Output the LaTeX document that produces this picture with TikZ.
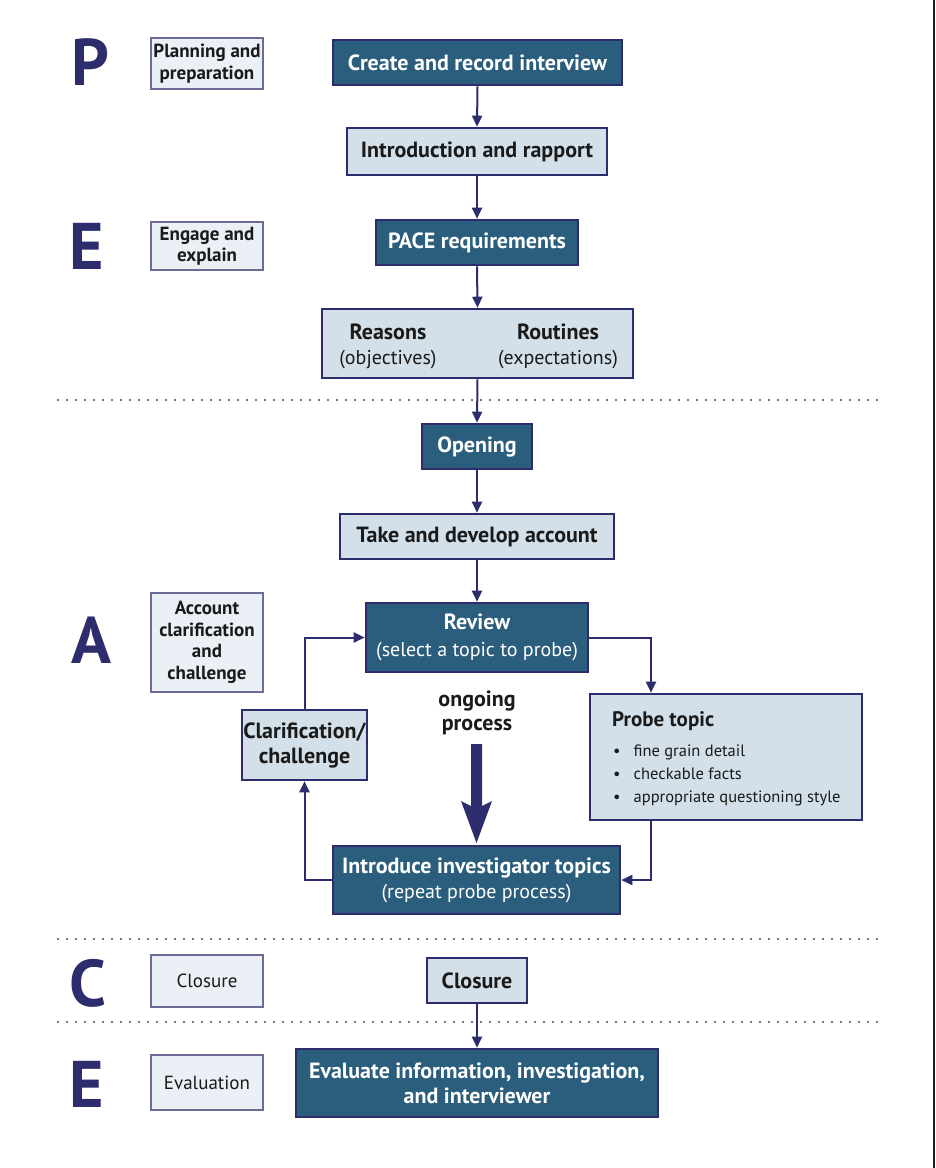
\documentclass[tikz,border=0pt]{standalone}
\usepackage{fontspec}
\setmainfont{PT Sans}
\usetikzlibrary{arrows.meta}
\definecolor{navy}{HTML}{2D2C6C}
\definecolor{darkfill}{HTML}{2A5E7C}
\definecolor{lightfill}{HTML}{D3E0E9}
\definecolor{palefill}{HTML}{EAF0F5}
\definecolor{txt}{HTML}{1A1A1A}
\newcommand\subtxt{\fontsize{20}{24}\selectfont\mdseries}
\tikzset{
  darkbox/.style={draw=navy, line width=2.6pt, fill=darkfill, text=white, font=\fontsize{22}{25}\selectfont\bfseries, align=center, inner sep=0pt},
  lightbox/.style={draw=navy, line width=2.6pt, fill=lightfill, text=txt, font=\fontsize{22}{25}\selectfont\bfseries, align=center, inner sep=0pt},
  sidebox/.style={draw=navy!70, line width=1.4pt, fill=palefill, text=txt, font=\fontsize{19}{21.5}\selectfont\bfseries, align=center, inner sep=0pt, minimum width=112pt},
  letter/.style={text=navy, font=\fontsize{66}{66}\selectfont\bfseries, inner sep=0pt},
  conn/.style={draw=navy, line width=2pt, -{Triangle[length=11pt,width=10pt]}},
  dotline/.style={draw=navy!70!gray, line width=2.4pt, line cap=round, dash pattern=on 0pt off 9pt}
}
\begin{document}
\begin{tikzpicture}[x=1pt,y=-1pt]
\useasboundingbox (0,0) rectangle (936,1168);
\fill[white] (0,0) rectangle (936,1168);
\draw[line width=2.5pt, draw=black!88] (934,0) -- (934,1168);

% letters
\node[letter] (lP) at (90,62) {P};
\node[letter] (lE1) at (87,246) {E};
\node[letter] (lA) at (91,640) {A};
\node[letter] (lC) at (88,983) {C};
\node[letter] (lE2) at (87,1084) {E};

% side boxes
\node[sidebox, minimum height=51pt] (planning) at (207,63.5) {Planning and\\preparation};
\node[sidebox, minimum height=48pt] (engage) at (207,246) {Engage and\\explain};
\node[sidebox, minimum height=99pt] (account) at (207,642.5) {Account\\clarification\\and\\challenge};
\node[sidebox, minimum height=52pt] (closureL) at (207,981) {\mdseries Closure};
\node[sidebox, minimum height=55pt] (evaluation) at (207,1082.5) {\mdseries Evaluation};

% dotted separators
\draw[dotline] (58,400) -- (883,400);
\draw[dotline] (58,939) -- (883,939);
\draw[dotline] (58,1022) -- (883,1022);

% main flow
\node[darkbox, minimum width=289pt, minimum height=45pt] (create) at (477.5,62.5) {Create and record interview};
\node[lightbox, minimum width=260pt, minimum height=47pt] (intro) at (477,151.5) {Introduction and rapport};
\node[darkbox, minimum width=202pt, minimum height=45pt] (pace) at (477,242.5) {PACE requirements};
\node[lightbox, minimum width=311pt, minimum height=69pt] (reasons) at (477.5,343.5) {};
\node[lightbox, draw=none, fill=none] (reasonsT) at (388,346) {Reasons\\{\subtxt (objectives)}};
\node[lightbox, draw=none, fill=none] (routinesT) at (558,346) {Routines\\{\subtxt (expectations)}};
\node[darkbox, minimum width=110pt, minimum height=45pt] (opening) at (477,446.5) {Opening};
\node[lightbox, minimum width=274pt, minimum height=45pt] (take) at (477,536.5) {Take and develop account};
\node[darkbox, minimum width=222pt, minimum height=69pt] (review) at (477,637.5) {Review\\[2pt]{\subtxt (select a topic to probe)}};
\node[lightbox, minimum width=125pt, minimum height=70pt] (clar) at (304.5,745) {Clarification/\\challenge};
\node[lightbox, minimum width=272pt, minimum height=126pt] (probe) at (726,757) {};
\node[anchor=north west, inner sep=0pt, text=txt, font=\fontsize{21}{24}\selectfont\bfseries] (probeT) at (612,711) {Probe topic};
\node[anchor=north west, inner sep=0pt, text=txt, font=\fontsize{16.5}{23}\selectfont, align=left] (probeL) at (613,745)
  {\textbullet\hspace{13pt}fine grain detail\\ \textbullet\hspace{13pt}checkable facts\\ \textbullet\hspace{13pt}appropriate questioning style};
\node[darkbox, minimum width=287pt, minimum height=68pt] (introduce) at (476.5,880) {Introduce investigator topics\\{\subtxt (repeat probe process)}};
\node[lightbox, minimum width=100pt, minimum height=45pt] (closureC) at (477,980.5) {Closure};
\node[darkbox, minimum width=362pt, minimum height=68pt] (evaluate) at (477,1083) {Evaluate information, investigation,\\and interviewer};

% ongoing process
\node[text=txt, font=\fontsize{22}{24}\selectfont\bfseries, align=center, inner sep=0pt] (ongoing) at (477,713) {ongoing\\process};
\fill[navy] (471,744) -- (482,744) -- (482,806) -- (492,801) -- (476.5,843) -- (461,801) -- (471,806) -- cycle;

% connectors
\draw[conn] (create.south) -- (intro.north);
\draw[conn] (intro.south) -- (pace.north);
\draw[conn] (pace.south) -- (reasons.north);
\draw[conn] (reasons.south) -- (opening.north);
\draw[conn] (opening.south) -- (take.north);
\draw[conn] (take.south) -- (review.north);
\draw[conn] (review.east) -| ([xshift=-75pt]probe.north);
\draw[conn] ([xshift=-75pt]probe.south) |- (introduce.east);
\draw[conn] (introduce.west) -| (clar.south);
\draw[conn] (clar.north) |- (review.west);
\draw[conn] (closureC.south) -- (evaluate.north);
\end{tikzpicture}
\end{document}
